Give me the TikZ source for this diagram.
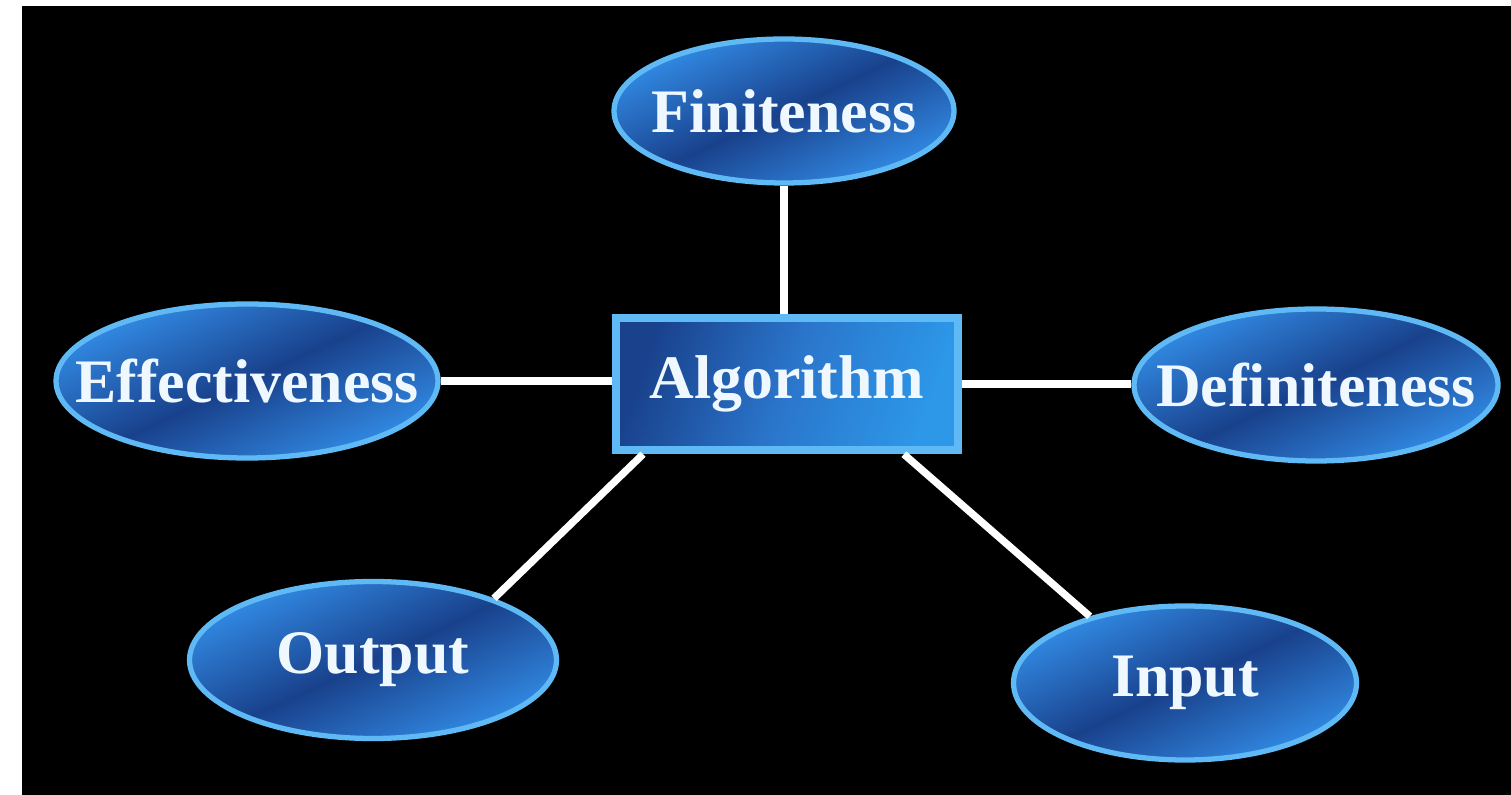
\documentclass[tikz,border=0pt]{standalone}
\usepackage{fontspec}
\setmainfont{Liberation Serif}
\usetikzlibrary{shapes.geometric}
\definecolor{rimblue}{RGB}{95,185,245}
\definecolor{fillblue}{RGB}{50,140,230}
\definecolor{deepblue}{RGB}{25,65,140}
\definecolor{textwhite}{RGB}{240,248,255}
\newcommand{\tag}[1]{\makebox[0pt]{#1}}
\begin{document}
\begin{tikzpicture}[
    prop/.style={ellipse, draw=rimblue, line width=1.5pt, top color=fillblue, bottom color=fillblue, middle color=deepblue, shading angle=25, text=textwhite, font=\bfseries\fontsize{17.6}{20}\selectfont, inner sep=0pt},
    core/.style={rectangle, draw=rimblue, line width=2.4pt, left color=deepblue, right color=fillblue!90!cyan, middle color=fillblue!70!deepblue, shading angle=70, text=textwhite, font=\bfseries\fontsize{17.6}{20}\selectfont, inner sep=0pt},
    link/.style={draw=white, line width=2.1pt}]
    % frame
    \useasboundingbox (0,0) rectangle (15.11,-7.95);
    \fill[white] (0,0) rectangle (15.11,-7.95);
    \fill[black] (0.22,-0.06) rectangle (15.11,-7.95);

    \node[core, minimum width=3.42cm, minimum height=1.32cm] (algo) at (7.87,-3.84) {Algorithm};
    \node[prop, minimum width=3.40cm, minimum height=1.44cm] (fin) at (7.84,-1.11) {\tag{Finiteness}};
    \node[prop, minimum width=3.82cm, minimum height=1.54cm] (eff) at (2.47,-3.81) {\tag{Effectiveness}};
    \node[prop, minimum width=3.64cm, minimum height=1.52cm] (def) at (13.16,-3.85) {\tag{Definiteness}};
    \node[prop, minimum width=3.67cm, minimum height=1.57cm] (outp) at (3.73,-6.60) {\tag{Output}};
    \node[prop, minimum width=3.43cm, minimum height=1.54cm] (inp) at (11.85,-6.83) {\tag{Input}};

    % connectors
    \draw[link] (fin.south) -- (fin.south |- algo.north);
    \draw[link] (eff.east) -- (eff.east -| algo.west);
    \draw[link] (algo.east) -- (algo.east -| def.west);
    \draw[link] (algo.-154) -- (outp.27);
    \draw[link] (algo.-31) -- (inp.145);
\end{tikzpicture}
\end{document}
